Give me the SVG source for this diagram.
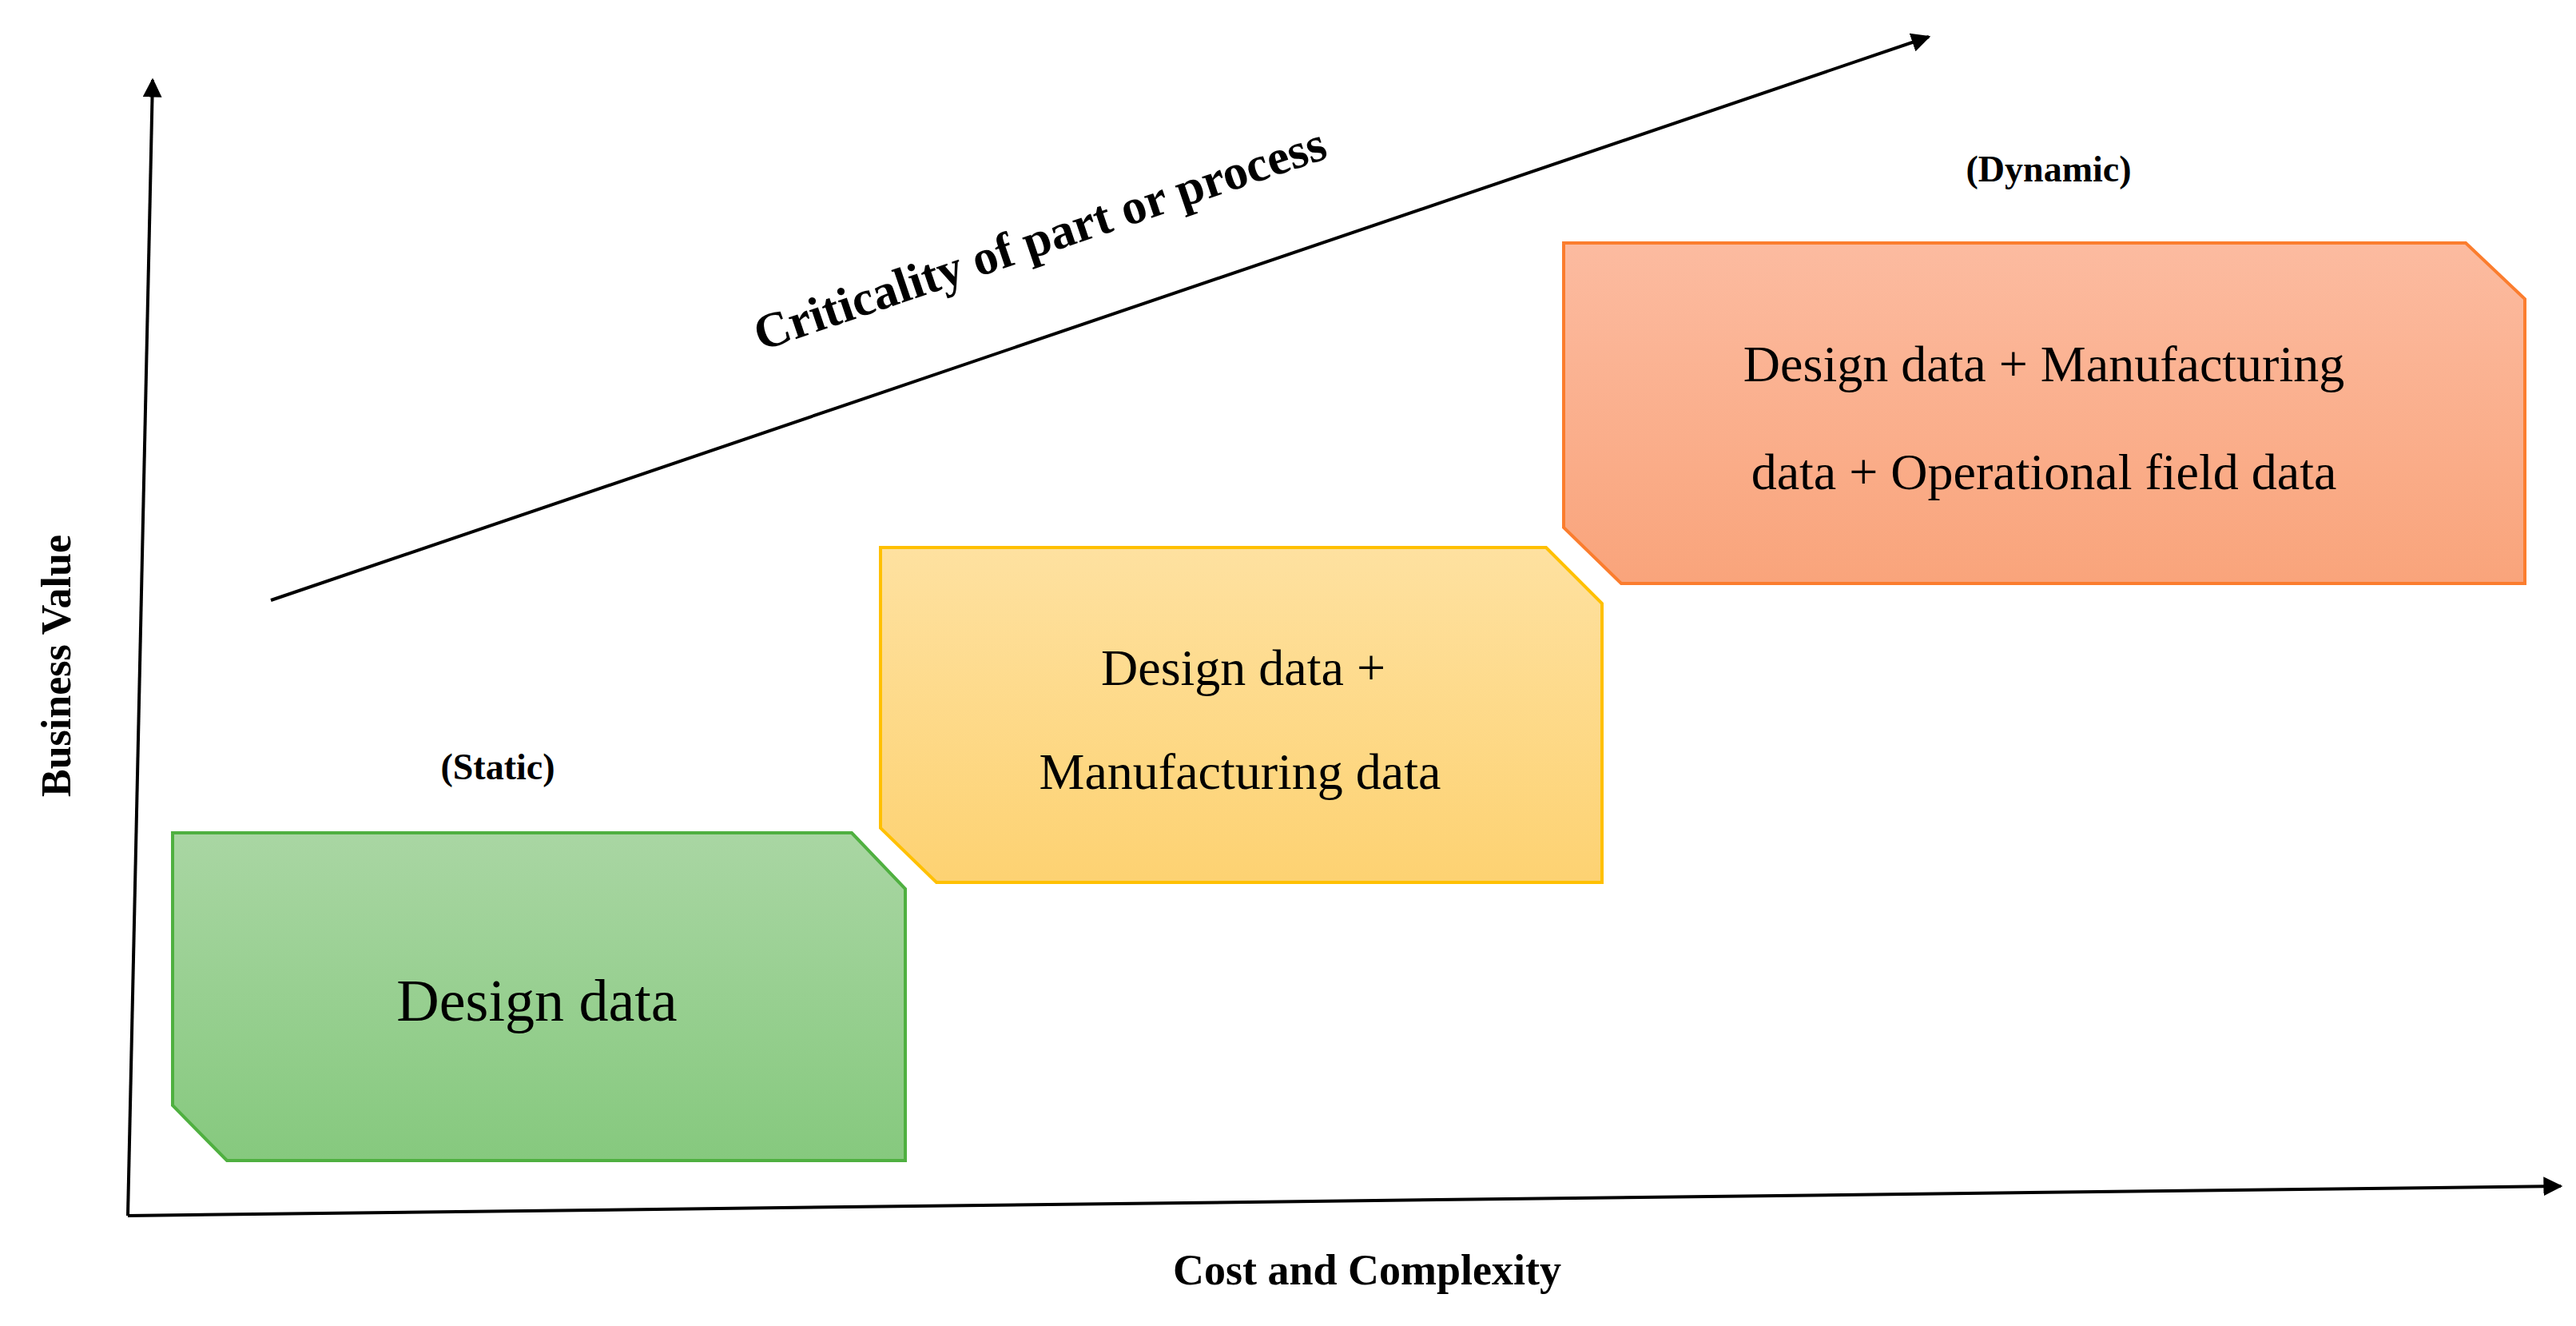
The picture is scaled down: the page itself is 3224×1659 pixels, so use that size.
<svg xmlns="http://www.w3.org/2000/svg" width="3224" height="1659" viewBox="0 0 3224 1659">
<defs>
<linearGradient id="gG" x1="0" y1="0" x2="0" y2="1"><stop offset="0" stop-color="#a9d6a3"/><stop offset="1" stop-color="#86c97e"/></linearGradient>
<linearGradient id="gY" x1="0" y1="0" x2="0" y2="1"><stop offset="0" stop-color="#fee1a0"/><stop offset="1" stop-color="#fdd272"/></linearGradient>
<linearGradient id="gO" x1="0" y1="0" x2="0" y2="1"><stop offset="0" stop-color="#fcbba0"/><stop offset="1" stop-color="#f9a47b"/></linearGradient>
<marker id="ah" viewBox="0 0 10 10" refX="9" refY="5" markerWidth="10" markerHeight="10" markerUnits="userSpaceOnUse" orient="auto"><path d="M0,0 L10,5 L0,10 z"/></marker>
<marker id="ah2" viewBox="0 0 10 10" refX="9" refY="5" markerWidth="6" markerHeight="6" orient="auto"><path d="M0,0 L10,5 L0,10 z"/></marker>
</defs>
<style>
text{font-family:"Liberation Serif",serif;fill:#000;text-anchor:middle}
.b{font-weight:bold}
.ax{stroke:#000;stroke-width:4;fill:none;marker-end:url(#ah2)}
</style>
<rect width="3224" height="1659" fill="#fff"/>
<g id="connectors">
<line class="ax" x1="160" y1="1521" x2="191" y2="100"/>
<line class="ax" x1="160" y1="1521" x2="3205" y2="1484"/>
<line class="ax" x1="339" y1="751" x2="2414" y2="46"/>
</g>
<g id="labels">
<text class="b" font-size="52" transform="translate(88,833) rotate(-90)">Business Value</text>
<text class="b" font-size="54" x="1711" y="1607">Cost and Complexity</text>
<text class="b" font-size="46" x="623" y="975">(Static)</text>
<text class="b" font-size="46" x="2564" y="227">(Dynamic)</text>
<text class="b" font-size="62" transform="translate(1308,318) rotate(-18.8)">Criticality of part or process</text>
</g>
<g id="static">
<path d="M216,1042 H1066 L1133,1112 V1452 H284 L216,1383 Z" fill="url(#gG)" stroke="#4fb040" stroke-width="4"/>
<text font-size="74" x="672" y="1277">Design data</text>
</g>
<g id="mid">
<path d="M1102,685 H1935 L2005,755 V1104 H1172 L1102,1036 Z" fill="url(#gY)" stroke="#ffc000" stroke-width="4"/>
<text font-size="64" x="1556" y="857">Design data +</text>
<text font-size="64" x="1552" y="987">Manufacturing data</text>
</g>
<g id="dynamic">
<path d="M1957,304 H3086 L3160,374 V730 H2029 L1957,660 Z" fill="url(#gO)" stroke="#fb7d2e" stroke-width="4"/>
<text font-size="64" x="2558" y="477">Design data + Manufacturing</text>
<text font-size="64" x="2558" y="612">data + Operational field data</text>
</g>
</svg>
